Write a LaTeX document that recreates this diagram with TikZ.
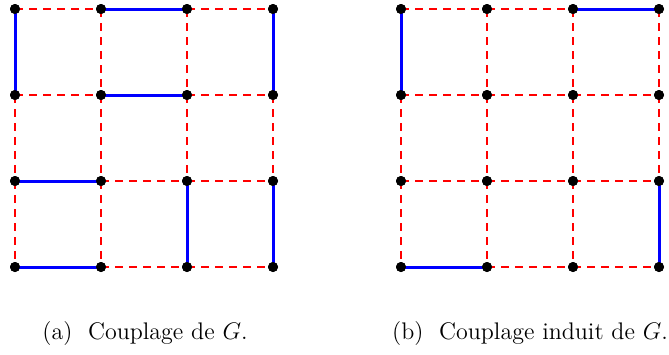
\documentclass[tikz,border=0pt]{standalone}
\begin{document}
\begin{tikzpicture}[x=0.5pt,y=-0.5pt,
  vtx/.style={circle,fill=black,inner sep=0pt,minimum size=5pt},
  nonm/.style={red,line width=1pt,dash pattern=on 4pt off 3pt},
  match/.style={blue,line width=1.5pt},
  captxt/.style={inner sep=0pt,anchor=base,font=\fontsize{12}{14}\selectfont}]
\useasboundingbox (0,0) rectangle (669,354);
\foreach \i in {0,...,3}{
  \foreach \j in {0,...,3}{
    \node[vtx] (a\i\j) at ({15+86*\i},{9+86*\j}) {};
    \node[vtx] (b\i\j) at ({401+86*\i},{9+86*\j}) {};
  }
}
% dashed grid
\foreach \g in {a,b}{
  \foreach \i in {0,...,3}{
    \foreach \j [evaluate=\j as \k using int(\j+1)] in {0,...,2}{
      \draw[nonm] (\g\i\j.center) -- (\g\i\k.center);
      \draw[nonm] (\g\j\i.center) -- (\g\k\i.center);
    }
  }
}
% matching (a)
\draw[match] (a00.center) -- (a01.center);
\draw[match] (a10.center) -- (a20.center);
\draw[match] (a30.center) -- (a31.center);
\draw[match] (a11.center) -- (a21.center);
\draw[match] (a02.center) -- (a12.center);
\draw[match] (a22.center) -- (a23.center);
\draw[match] (a32.center) -- (a33.center);
\draw[match] (a03.center) -- (a13.center);
% induced matching (b)
\draw[match] (b00.center) -- (b01.center);
\draw[match] (b20.center) -- (b30.center);
\draw[match] (b32.center) -- (b33.center);
\draw[match] (b03.center) -- (b13.center);
% vertices on top
\foreach \i in {0,...,3}{
  \foreach \j in {0,...,3}{
    \fill (a\i\j) circle (2.5pt);
    \fill (b\i\j) circle (2.5pt);
  }
}
\node[captxt] (capa) at (145,339) {(a)\ \ Couplage de $G$.};
\node[captxt] (capb) at (530,339) {(b)\ \ Couplage induit de $G$.};
\end{tikzpicture}
\end{document}
